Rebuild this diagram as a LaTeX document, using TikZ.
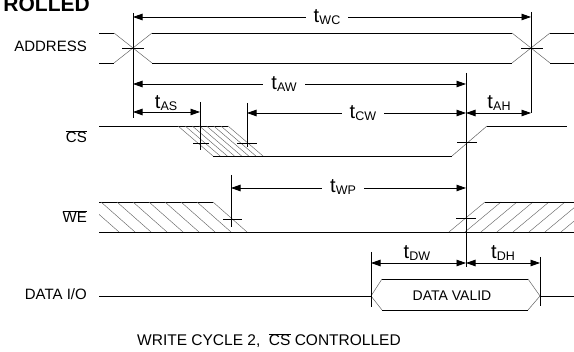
\documentclass[tikz,border=0pt]{standalone}
\usepackage{fontspec}
\setmainfont{Liberation Sans}
\usetikzlibrary{arrows.meta}
\newcommand\tlab[1]{{\fontsize{20}{20}\selectfont t}\kern0.2pt\raisebox{-1.5pt}{\fontsize{12.5}{12}\selectfont #1}}
\newcommand\ovl[1]{\ensuremath{\overline{\hbox{#1}}}}
\begin{document}
\begin{tikzpicture}[x=1pt,y=-1pt,
  sig/.style={line width=0.9pt,black},
  edgeln/.style={line width=0.5pt,black!60},
  hatch/.style={line width=0.45pt,black!60},
  refln/.style={line width=0.8pt,black},
  tickln/.style={line width=0.8pt,black},
  dim/.style={line width=0.8pt,black,{Triangle[length=9.5pt,width=6.5pt]}-{Triangle[length=9.5pt,width=6.5pt]}},
  lbl/.style={font=\fontsize{15}{15}\selectfont,anchor=base east,inner sep=0},
  tgap/.style={anchor=base,fill=white,inner xsep=8pt,inner ysep=0pt},
  tabove/.style={anchor=base,inner sep=0pt}]
\useasboundingbox (0,0) rectangle (574,352);
\clip (0,0) rectangle (574,352);

% title (cropped, as in the reference)
\node[font=\bfseries\fontsize{21}{21}\selectfont,anchor=base east,inner sep=0] (title) at (90,12) {ROLLED};

% signal labels
\node[lbl] (laddr) at (87,52) {ADDRESS};
\node[lbl] (lcs) at (87,143) {\ovl{CS}};
\node[lbl] (lwe) at (87,223) {\ovl{WE}};
\node[lbl] (ldata) at (87,300) {DATA I/O};

% ADDRESS waveform
\draw[sig] (99,33) -- (114,33);
\draw[sig] (99,63) -- (114,63);
\draw[edgeln] (114,33) -- (152,63);
\draw[edgeln] (114,63) -- (152,33);
\draw[sig] (152,33) -- (512,33);
\draw[sig] (152,63) -- (512,63);
\draw[edgeln] (512,33) -- (550,63);
\draw[edgeln] (512,63) -- (550,33);
\draw[sig] (550,33) -- (574,33);
\draw[sig] (550,63) -- (574,63);

% CS waveform
\draw[sig] (99,126) -- (228,126);
\foreach \i in {0,...,7} \draw[hatch] ({178+\i*50/7},126) -- ({213+\i*50/7},156);
\draw[sig] (213,156) -- (452,156);
\draw[edgeln] (452,156) -- (487,126);
\draw[sig] (487,126) -- (567,126);

% WE waveform
\draw[sig] (99,202) -- (213,202);
\begin{scope}
  \clip (99,200) rectangle (260,234);
  \foreach \i in {0,...,8} \draw[hatch] ({213-\i*16},202) -- ({247-\i*16},232);
\end{scope}
\draw[sig] (99,232) -- (574,232);
\begin{scope}
  \clip (440,200) rectangle (574,234);
  \foreach \i in {0,...,8} \draw[hatch] ({449+\i*16},232) -- ({485+\i*16},202);
\end{scope}
\draw[sig] (485,202) -- (574,202);

% DATA I/O waveform
\draw[sig] (99,296) -- (371,296);
\draw[edgeln] (371,296) -- (382,279);
\draw[sig] (382,279) -- (528,279);
\draw[edgeln] (528,279) -- (540,296);
\draw[edgeln] (540,296) -- (528,310);
\draw[sig] (528,310) -- (382,310);
\draw[edgeln] (382,310) -- (371,296);
\draw[sig] (540,296) -- (574,296);
\node[font=\fontsize{14}{14}\selectfont,inner sep=0] (dv) at (452,296) {DATA VALID};

% reference verticals
\coordinate (v1t) at (133,13);  \coordinate (v1b) at (133,118);
\coordinate (v2t) at (531,12);  \coordinate (v2b) at (531,113);
\coordinate (v3t) at (466,73);  \coordinate (v3b) at (466,267);
\coordinate (v4t) at (200,102); \coordinate (v4b) at (200,150);
\coordinate (v5t) at (247,103); \coordinate (v5b) at (247,147);
\coordinate (v6t) at (231,175); \coordinate (v6b) at (231,227);
\coordinate (v7t) at (371,252); \coordinate (v7b) at (371,307);
\coordinate (v8t) at (540,257); \coordinate (v8b) at (540,306);
\foreach \v in {1,...,8} \draw[refln] (v\v t) -- (v\v b);

% crossing ticks
\draw[tickln] (122,48) -- (144,48);
\draw[tickln] (521,48) -- (543,48);
\draw[tickln] (193,143) -- (209,143);
\draw[tickln] (237,143) -- (257,143);
\draw[tickln] (457,142) -- (477,142);
\draw[tickln] (223,219) -- (242,219);
\draw[tickln] (456,218) -- (476,218);

% dimension arrows
\coordinate (wcL) at (133,17);  \coordinate (wcR) at (531,17);
\coordinate (awL) at (133,84);  \coordinate (awR) at (466,84);
\coordinate (asL) at (133,112); \coordinate (asR) at (200,112);
\coordinate (cwL) at (247,113); \coordinate (cwR) at (466,113);
\coordinate (ahL) at (466,113); \coordinate (ahR) at (531,113);
\coordinate (wpL) at (231,188); \coordinate (wpR) at (466,188);
\coordinate (dwL) at (371,263); \coordinate (dwR) at (466,263);
\coordinate (dhL) at (466,263); \coordinate (dhR) at (540,263);
\foreach \a in {wc,aw,as,cw,ah,wp,dw,dh} \draw[dim] (\a L) -- (\a R);

\node[tgap] (twc) at (327,23) {\tlab{WC}};
\node[tgap] (taw) at (284,90) {\tlab{AW}};
\node[tgap] (tcw) at (363,119) {\tlab{CW}};
\node[tgap] (twp) at (343,193) {\tlab{WP}};
\node[tabove] (tas) at (166,109) {\tlab{AS}};
\node[tabove] (tah) at (499,109) {\tlab{AH}};
\node[tabove] (tdw) at (417,259) {\tlab{DW}};
\node[tabove] (tdh) at (503,259) {\tlab{DH}};

% caption
\node[font=\fontsize{15.5}{15.5}\selectfont,anchor=base west,inner sep=0] (cap) at (137,346) {WRITE CYCLE 2,\ \ \ovl{CS} CONTROLLED};
\end{tikzpicture}
\end{document}
